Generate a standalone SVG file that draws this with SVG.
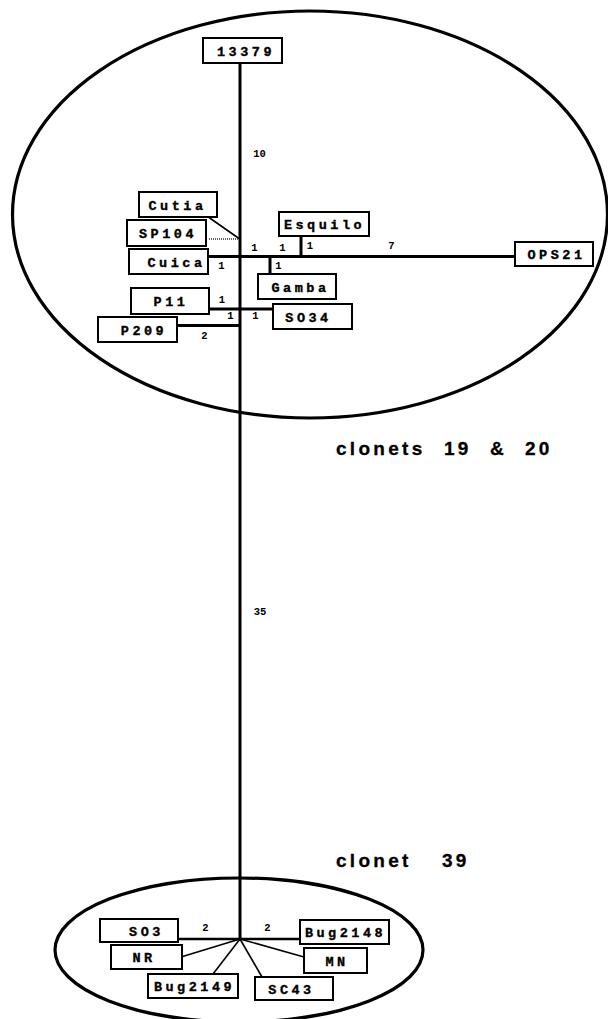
<svg xmlns="http://www.w3.org/2000/svg" width="608" height="1019" viewBox="0 0 608 1019">
<style>
.bg{fill:#fff}
.ell{fill:none;stroke:#000;stroke-width:3.2}
.box{fill:#fff;stroke:#000;stroke-width:2}
.lbl{font-family:"Liberation Mono",monospace;font-weight:bold;font-size:13.5px;letter-spacing:3.5px;text-anchor:middle;fill:#000;stroke:#000;stroke-width:0.35}
.num{font-family:"Liberation Mono",monospace;font-weight:bold;font-size:10.5px;text-anchor:middle;fill:#000}
.title{font-family:"Liberation Sans",Arial,sans-serif;font-weight:bold;font-size:19px;letter-spacing:3.3px;fill:#000;stroke:#000;stroke-width:0.3}
.thick{stroke:#000;stroke-width:3;fill:none}
.med{stroke:#000;stroke-width:2.4;fill:none}
.thin{stroke:#000;stroke-width:1.6;fill:none}
.dot{stroke:#333;stroke-width:1.4;stroke-dasharray:1 1;fill:none}
</style>
<rect class="bg" x="0" y="0" width="608" height="1019"/>
<ellipse class="ell" cx="310" cy="214.5" rx="297.5" ry="203.5"/>
<ellipse class="ell" cx="239" cy="950" rx="184" ry="72"/>
<g id="connectors">
<line class="thick" x1="240" y1="63" x2="240" y2="939"/>
<line class="thick" x1="208" y1="256.5" x2="515" y2="256.5"/>
<line class="thick" x1="301" y1="236" x2="301" y2="256.5"/>
<line class="thick" x1="270" y1="256.5" x2="270" y2="274"/>
<line class="thin" x1="209" y1="217.5" x2="239" y2="238.5"/>
<line class="dot" x1="209" y1="239" x2="239" y2="239"/>
<line class="thick" x1="209" y1="309" x2="273" y2="309"/>
<line class="thick" x1="177" y1="325.5" x2="240" y2="325.5"/>
<line class="med" x1="178" y1="939" x2="300" y2="939"/>
<line class="thin" x1="240" y1="939" x2="181" y2="957"/>
<line class="thin" x1="240" y1="939" x2="304" y2="957"/>
<line class="thin" x1="240" y1="939" x2="213" y2="974"/>
<line class="thin" x1="240" y1="939" x2="262" y2="977"/>
</g>
<g id="edge-labels">
<text class="num" x="259.5" y="157">10</text>
<text class="num" x="254.5" y="251">1</text>
<text class="num" x="282.5" y="251">1</text>
<text class="num" x="310" y="249">1</text>
<text class="num" x="391.5" y="249">7</text>
<text class="num" x="221.5" y="269">1</text>
<text class="num" x="278.5" y="269">1</text>
<text class="num" x="222" y="303">1</text>
<text class="num" x="230.5" y="319">1</text>
<text class="num" x="255.5" y="319">1</text>
<text class="num" x="204.5" y="339">2</text>
<text class="num" x="260" y="615">35</text>
<text class="num" x="205.5" y="931">2</text>
<text class="num" x="267.5" y="931">2</text>
</g>
<g id="n13379"><rect class="box" x="203" y="38" width="79" height="25"/><text class="lbl" x="246" y="55.5">13379</text></g>
<g id="nCutia"><rect class="box" x="139" y="192" width="78" height="25"/><text class="lbl" x="177.5" y="209.5">Cutia</text></g>
<g id="nSP104"><rect class="box" x="127" y="220" width="79" height="26"/><text class="lbl" x="168" y="238">SP104</text></g>
<g id="nCuica"><rect class="box" x="129" y="249" width="79" height="25"/><text class="lbl" x="176.5" y="266.5">Cuica</text></g>
<g id="nEsquilo"><rect class="box" x="279" y="212" width="90" height="24"/><text class="lbl" x="324.5" y="229">Esquilo</text></g>
<g id="nOPS21"><rect class="box" x="515" y="242" width="78" height="24"/><text class="lbl" x="556.5" y="259">OPS21</text></g>
<g id="nGamba"><rect class="box" x="258" y="274" width="78" height="25"/><text class="lbl" x="300.5" y="291.5">Gamba</text></g>
<g id="nP11"><rect class="box" x="131" y="288" width="78" height="26"/><text class="lbl" x="171" y="306">P11</text></g>
<g id="nSO34"><rect class="box" x="273" y="304" width="79" height="25"/><text class="lbl" x="308.5" y="321.5">SO34</text></g>
<g id="nP209"><rect class="box" x="98" y="317" width="79" height="25"/><text class="lbl" x="144" y="334.5">P209</text></g>
<g id="nSO3"><rect class="box" x="100" y="919" width="78" height="23"/><text class="lbl" x="146.5" y="935.5">SO3</text></g>
<g id="nBug2148"><rect class="box" x="300" y="920" width="89" height="24"/><text class="lbl" x="345.5" y="937">Bug2148</text></g>
<g id="nNR"><rect class="box" x="111" y="945" width="71" height="24"/><text class="lbl" x="144" y="962">NR</text></g>
<g id="nMN"><rect class="box" x="304" y="948" width="63" height="25"/><text class="lbl" x="337" y="965.5">MN</text></g>
<g id="nBug2149"><rect class="box" x="148" y="974" width="90" height="24"/><text class="lbl" x="194.5" y="991">Bug2149</text></g>
<g id="nSC43"><rect class="box" x="255" y="977" width="78" height="23"/><text class="lbl" x="291.5" y="993.5">SC43</text></g>
<g id="titles">
<text class="title" y="455"><tspan x="336">clonets</tspan><tspan x="444">19</tspan><tspan x="490">&amp;</tspan><tspan x="525">20</tspan></text>
<text class="title" y="867"><tspan x="336">clonet</tspan><tspan x="442">39</tspan></text>
</g>
</svg>
